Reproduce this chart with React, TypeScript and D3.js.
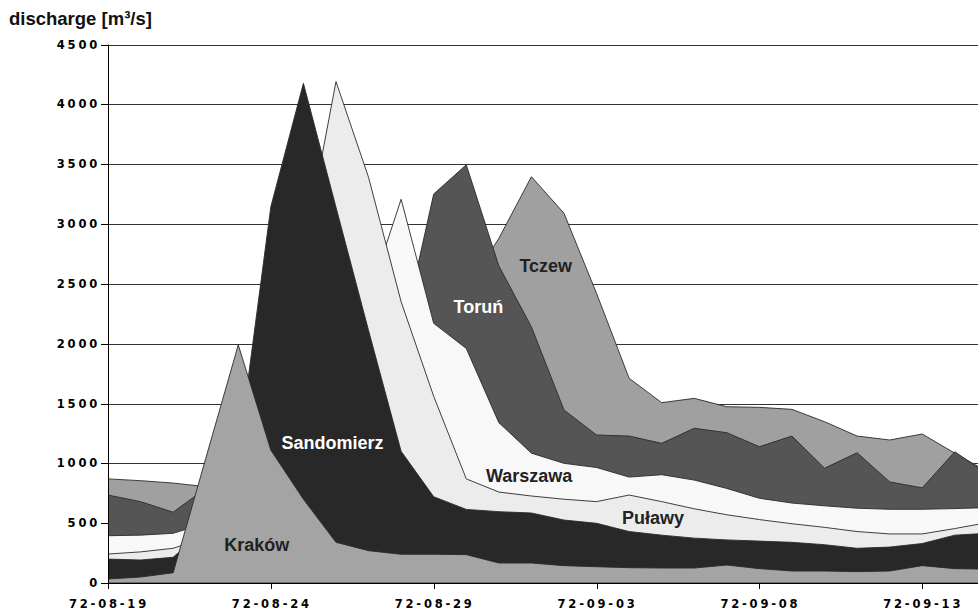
import React from "react";
import * as d3 from "d3";

// daily discharge, 1972-08-19 .. 1972-09-15
const dates = [
  "1972-08-19", "1972-08-20", "1972-08-21", "1972-08-22", "1972-08-23", "1972-08-24", "1972-08-25",
  "1972-08-26", "1972-08-27", "1972-08-28", "1972-08-29", "1972-08-30", "1972-08-31", "1972-09-01",
  "1972-09-02", "1972-09-03", "1972-09-04", "1972-09-05", "1972-09-06", "1972-09-07", "1972-09-08",
  "1972-09-09", "1972-09-10", "1972-09-11", "1972-09-12", "1972-09-13", "1972-09-14", "1972-09-15",
];

const tczew = [870, 855, 835, 805, 900, 1000, 1100, 1300, 1600, 1900, 2200, 2450, 2880, 3395, 3090, 2420, 1711, 1507, 1543, 1473, 1468, 1451, 1348, 1228, 1195, 1245, 1085, 930];
const torun = [735, 680, 592, 790, 850, 900, 950, 1050, 1400, 2030, 3250, 3495, 2650, 2140, 1446, 1237, 1228, 1167, 1293, 1256, 1139, 1228, 959, 1089, 845, 795, 1097, 910];
const warszawa = [395, 400, 415, 500, 600, 800, 1200, 1700, 2380, 3207, 2170, 1960, 1340, 1085, 1000, 965, 885, 905, 860, 790, 708, 668, 645, 625, 616, 616, 622, 630];
const pulawy = [242, 260, 290, 380, 700, 1500, 2750, 4190, 3390, 2350, 1560, 870, 760, 727, 700, 680, 735, 680, 620, 570, 530, 495, 465, 430, 410, 410, 455, 505];
const sandomierz = [200, 192, 215, 450, 1080, 3145, 4176, 3140, 2110, 1100, 721, 615, 596, 585, 526, 499, 430, 400, 375, 360, 350, 340, 320, 290, 300, 330, 400, 415];
const krakow = [33, 50, 85, 1040, 1990, 1110, 700, 340, 270, 240, 240, 237, 167, 167, 145, 136, 128, 125, 125, 150, 120, 100, 100, 95, 100, 145, 120, 115];

const yTicks = [0, 500, 1000, 1500, 2000, 2500, 3000, 3500, 4000, 4500];
const xTickIndex = [0, 5, 10, 15, 20, 25];

const DAY = 864e5;

export default function App() {
  const width = 978;
  const height = 616;
  const left = 108;
  const right = 978;
  const bottom = 583;

  const parsed = dates.map((d) => new Date(d + "T00:00:00Z"));
  const x = d3
    .scaleUtc()
    .domain([parsed[0], parsed[parsed.length - 1]])
    .range([left, left + (parsed.length - 1) * 32.57]);
  const y = d3.scaleLinear().domain([0, 4500]).range([bottom, 44.5]);
  const fmt = d3.utcFormat("%y-%m-%d");
  const at = (d: number) => x(new Date(parsed[0].getTime() + d * DAY));

  const area = d3
    .area<number>()
    .x((_, i) => x(parsed[i]))
    .y0(y(0))
    .y1((v) => y(v));

  // back to front
  const series = [
    { name: "Tczew", values: tczew, fill: "#a0a0a0", text: "#222", lx: 13.44, lv: 2602 },
    { name: "Toruń", values: torun, fill: "#555555", text: "#fff", lx: 11.37, lv: 2254 },
    { name: "Warszawa", values: warszawa, fill: "#f8f8f8", text: "#222", lx: 12.93, lv: 842 },
    { name: "Puławy", values: pulawy, fill: "#ececec", text: "#222", lx: 16.73, lv: 490 },
    { name: "Sandomierz", values: sandomierz, fill: "#282828", text: "#fff", lx: 6.89, lv: 1120 },
    { name: "Kraków", values: krakow, fill: "#a4a4a4", text: "#222", lx: 4.57, lv: 267 },
  ];

  const tickFont = {
    fontFamily: "'DejaVu Sans', sans-serif",
    fontWeight: 700,
    fontSize: 11.5,
    letterSpacing: 2.8,
    fill: "#000",
  } as const;

  return (
    <svg
      width={width}
      height={height}
      style={{ position: "absolute", left: 0, top: 0, background: "#fff" }}
    >
      <defs>
        <clipPath id="plot">
          <rect x={left} y={0} width={right - left} height={bottom + 1} />
        </clipPath>
      </defs>

      {/* grid */}
      {yTicks.map((t) => (
        <line
          key={"g" + t}
          x1={left}
          x2={right}
          y1={Math.round(y(t)) + 0.5}
          y2={Math.round(y(t)) + 0.5}
          stroke="#333"
          strokeWidth={1}
        />
      ))}

      <g clipPath="url(#plot)">
        {series.map((s) => (
          <path
            key={s.name}
            d={area(s.values) || ""}
            fill={s.fill}
            stroke="#2a2a2a"
            strokeWidth={0.9}
            strokeLinejoin="round"
          />
        ))}
      </g>

      {series.map((s) => (
        <text
          key={"l" + s.name}
          x={at(s.lx)}
          y={y(s.lv)}
          textAnchor="middle"
          fill={s.text}
          style={{ fontFamily: "'Liberation Sans', Arial, sans-serif", fontWeight: 700, fontSize: 18 }}
        >
          {s.name}
        </text>
      ))}

      {/* y axis */}
      <line x1={left + 0.5} x2={left + 0.5} y1={y(4500)} y2={bottom} stroke="#000" />
      {yTicks.map((t) => (
        <g key={"y" + t}>
          <line x1={left - 7} x2={left} y1={Math.round(y(t)) + 0.5} y2={Math.round(y(t)) + 0.5} stroke="#000" />
          <text x={left - 8} y={y(t) + 4} textAnchor="end" style={tickFont}>
            {t}
          </text>
        </g>
      ))}

      {/* x axis */}
      <line x1={left} x2={right} y1={bottom + 0.5} y2={bottom + 0.5} stroke="#000" />
      {xTickIndex.map((i) => (
        <g key={"x" + i}>
          <line
            x1={Math.round(x(parsed[i])) + 0.5}
            x2={Math.round(x(parsed[i])) + 0.5}
            y1={bottom}
            y2={bottom + 6}
            stroke="#000"
          />
          <text x={x(parsed[i]) + 1} y={608} textAnchor="middle" style={tickFont}>
            {fmt(parsed[i])}
          </text>
        </g>
      ))}

      <text
        x={9}
        y={25}
        style={{ fontFamily: "'Liberation Sans', Arial, sans-serif", fontWeight: 700, fontSize: 18.5, fill: "#111" }}
      >
        discharge [m³/s]
      </text>
    </svg>
  );
}
